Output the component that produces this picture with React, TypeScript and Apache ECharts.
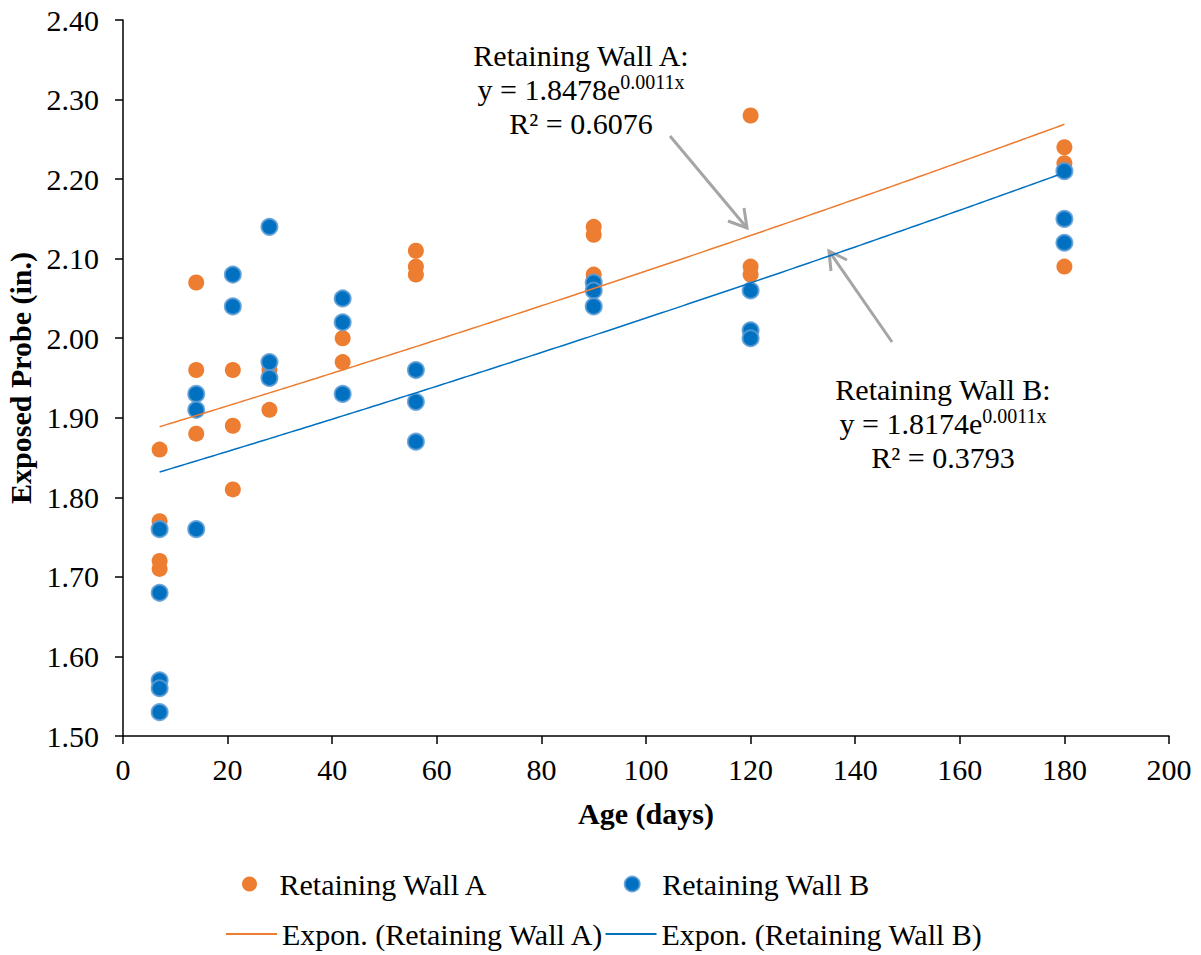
import React, { useEffect, useRef } from "react";
import * as echarts from "echarts";

// Measured readings: [age (days), exposed probe (in.)]
const wallA: [number, number][] = [
  [7, 1.86], [7, 1.77], [7, 1.72], [7, 1.71],
  [14, 2.07], [14, 1.96], [14, 1.88],
  [21, 1.96], [21, 1.89], [21, 1.81],
  [28, 1.96], [28, 1.91],
  [42, 2.0], [42, 1.97],
  [56, 2.11], [56, 2.09], [56, 2.08],
  [90, 2.14], [90, 2.13], [90, 2.08],
  [120, 2.28], [120, 2.09], [120, 2.08],
  [180, 2.24], [180, 2.22], [180, 2.09],
];

const wallB: [number, number][] = [
  [7, 1.76], [7, 1.68], [7, 1.57], [7, 1.56], [7, 1.53],
  [14, 1.93], [14, 1.91], [14, 1.76],
  [21, 2.08], [21, 2.04],
  [28, 2.14], [28, 1.97], [28, 1.95],
  [42, 2.05], [42, 2.02], [42, 1.93],
  [56, 1.96], [56, 1.92], [56, 1.87],
  [90, 2.07], [90, 2.06], [90, 2.04],
  [120, 2.06], [120, 2.01], [120, 2.0],
  [180, 2.21], [180, 2.15], [180, 2.12],
];

// Exponential trendline coefficients y = a * e^(b x), as drawn in the chart
const trendA = { a: 1.8748, b: 0.00106 };
const trendB = { a: 1.818, b: 0.00108 };
const trendRange = [7, 180];

const seriesNames = ["Retaining Wall A", "Retaining Wall B"];
const trendNames = ["Expon. (Retaining Wall A)", "Expon. (Retaining Wall B)"];

const FONT = "Liberation Serif, Times New Roman, serif";
const FS = 30;
const ORANGE = "#ED7D31";
const BLUE = "#0070C0";

function trendPoints(t: { a: number; b: number }): [number, number][] {
  const pts: [number, number][] = [];
  for (let x = trendRange[0]; x <= trendRange[1]; x += 1) {
    pts.push([x, t.a * Math.exp(t.b * x)]);
  }
  return pts;
}

export default function App() {
  const ref = useRef<HTMLDivElement>(null);
  useEffect(() => {
    if (!ref.current) return;
    const chart = echarts.init(ref.current, undefined, { renderer: "svg" });
    const rich = {
      t: { fontSize: FS, fontFamily: FONT, lineHeight: 34, color: "#000" },
      s: { fontSize: 20, fontFamily: FONT, lineHeight: 34, color: "#000", verticalAlign: "top" as const },
    };
    chart.setOption({
      animation: false,
      backgroundColor: "#fff",
      textStyle: { fontFamily: FONT },
      grid: { left: 123, right: 32, top: 20, bottom: 219, containLabel: false, outerBoundsMode: "none" },
      xAxis: {
        type: "value",
        min: 0,
        max: 200,
        interval: 20,
        name: "Age (days)",
        nameLocation: "middle",
        nameGap: 62,
        nameTextStyle: { fontSize: FS, fontWeight: "bold", fontFamily: FONT, color: "#000" },
        axisLine: { show: true, lineStyle: { color: "#000", width: 1.5 } },
        axisTick: { show: true, length: 8, lineStyle: { color: "#000", width: 1.5 } },
        axisLabel: { fontSize: FS, fontFamily: FONT, color: "#000", margin: 18 },
        splitLine: { show: false },
      },
      yAxis: {
        type: "value",
        min: 1.5,
        max: 2.4,
        interval: 0.1,
        name: "Exposed Probe (in.)",
        nameLocation: "middle",
        nameGap: 85,
        nameRotate: 90,
        nameTextStyle: { fontSize: FS, fontWeight: "bold", fontFamily: FONT, color: "#000" },
        axisLine: { show: true, lineStyle: { color: "#000", width: 1.5 } },
        axisTick: { show: true, length: 8, lineStyle: { color: "#000", width: 1.5 } },
        axisLabel: {
          fontSize: FS,
          fontFamily: FONT,
          color: "#000",
          margin: 24,
          formatter: (v: number) => v.toFixed(2),
        },
        splitLine: { show: false },
      },
      legend: [
        {
          data: [
            { name: seriesNames[0], icon: "circle" },
            { name: seriesNames[1], icon: "circle" },
          ],
          left: 242,
          top: 869,
          padding: 0,
          itemWidth: 50,
          itemHeight: 15,
          itemGap: 135,
          textStyle: { fontSize: FS, fontFamily: FONT, color: "#000" },
        },
        {
          data: [
            { name: trendNames[0], icon: "rect" },
            { name: trendNames[1], icon: "rect" },
          ],
          left: 226,
          top: 919,
          padding: 0,
          itemWidth: 51,
          itemHeight: 2,
          itemGap: 1,
          textStyle: { fontSize: FS, fontFamily: FONT, color: "#000" },
        },
      ],
      series: [
        {
          name: seriesNames[0],
          type: "scatter",
          data: wallA,
          symbol: "circle",
          symbolSize: 16,
          itemStyle: { color: ORANGE, opacity: 1 },
        },
        {
          name: seriesNames[1],
          type: "scatter",
          data: wallB,
          symbol: "circle",
          symbolSize: 16,
          itemStyle: { color: BLUE, borderColor: "rgba(91,155,213,0.85)", borderWidth: 2, opacity: 1 },
        },
        {
          name: trendNames[0],
          type: "line",
          data: trendPoints(trendA),
          showSymbol: false,
          symbol: "none",
          lineStyle: { color: ORANGE, width: 1.5 },
          itemStyle: { color: ORANGE },
        },
        {
          name: trendNames[1],
          type: "line",
          data: trendPoints(trendB),
          showSymbol: false,
          symbol: "none",
          lineStyle: { color: BLUE, width: 1.5 },
          itemStyle: { color: BLUE },
        },
      ],
      graphic: [
        {
          type: "text",
          x: 581,
          y: 38,
          style: {
            text: "{t|Retaining Wall A:}\n{t|y = 1.8478e}{s|0.0011x}\n{t|R² = 0.6076}",
            rich,
            align: "center",
            verticalAlign: "top",
          },
        },
        {
          type: "text",
          x: 943,
          y: 372,
          style: {
            text: "{t|Retaining Wall B:}\n{t|y = 1.8174e}{s|0.0011x}\n{t|R² = 0.3793}",
            rich,
            align: "center",
            verticalAlign: "top",
          },
        },
        {
          type: "line",
          shape: { x1: 670, y1: 136, x2: 747, y2: 228 },
          style: { stroke: "#A5A5A5", lineWidth: 3 },
        },
        {
          type: "polyline",
          shape: { points: [[728, 221], [747, 228], [744, 208]] },
          style: { stroke: "#A5A5A5", lineWidth: 3, fill: "none" },
        },
        {
          type: "line",
          shape: { x1: 892, y1: 342, x2: 829, y2: 251 },
          style: { stroke: "#A5A5A5", lineWidth: 3 },
        },
        {
          type: "polyline",
          shape: { points: [[831, 271], [829, 251], [847, 260]] },
          style: { stroke: "#A5A5A5", lineWidth: 3, fill: "none" },
        },
      ],
    });
    return () => chart.dispose();
  }, []);
  return (
    <div
      ref={ref}
      style={{ position: "fixed", left: 0, top: 0, width: 1201, height: 955, background: "#fff" }}
    />
  );
}
